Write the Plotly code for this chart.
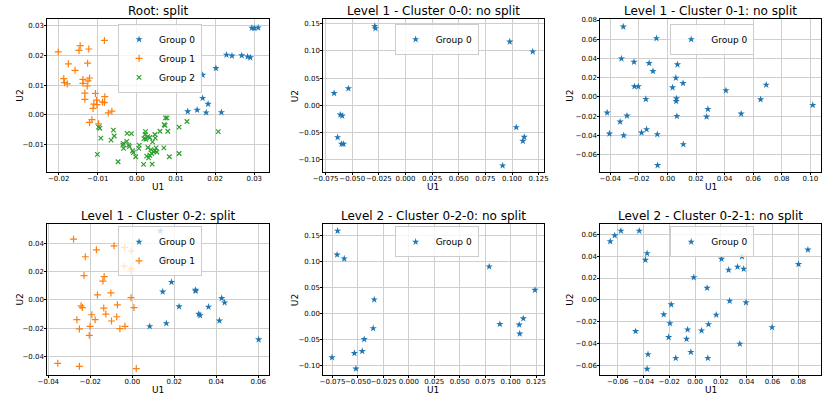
import plotly.graph_objects as go

# ---------------- data ----------------
# Root: split
root_g0_u1 = [0.0294, 0.0300, 0.0310, 0.0229, 0.0243, 0.0268, 0.0283, 0.0290, 0.0202, 0.0168,
              0.0168, 0.0182, 0.0130, 0.0154, 0.0177, 0.0216]
root_g0_u2 = [0.0293, 0.0292, 0.0294, 0.0202, 0.0199, 0.0200, 0.0196, 0.0193, 0.0157, 0.0134,
              0.0056, 0.0036, 0.0011, 0.0016, 0.0007, 0.0008]
root_g1_u1 = [-0.0201, -0.0083, -0.0145, -0.0148, -0.0123, -0.0175, -0.0126, -0.0158, -0.0187, -0.0185,
              -0.0178, -0.0138, -0.0138, -0.0121, -0.0125, -0.0127, -0.0133, -0.0106, -0.0133, -0.0103,
              -0.0110, -0.0102, -0.0088, -0.0082, -0.0083, -0.0112, -0.0073, -0.0064, -0.0115, -0.0121,
              -0.0098]
root_g1_u2 = [0.0212, 0.0251, 0.0233, 0.0217, 0.0222, 0.0172, 0.0174, 0.0150, 0.0122, 0.0108,
              0.0104, 0.0119, 0.0106, 0.0124, 0.0114, 0.0097, 0.0073, 0.0072, 0.0052, 0.0049,
              0.0036, 0.0034, 0.0043, 0.0061, 0.0041, 0.0021, 0.0006, 0.0012, -0.0017, -0.0026,
              -0.0031]
root_g2_u1 = [-0.0098, -0.0095, -0.0092, -0.0101, -0.0060, -0.0058, -0.0066, -0.0048, -0.0025, -0.0014,
              -0.0026, -0.0035, -0.0036, -0.0034, -0.0021, -0.0019, -0.0011, -0.0009, -0.0003, 0.0006,
              0.0005, 0.0017, 0.0022, 0.0021, 0.0018, 0.0023, 0.0028, 0.0033, 0.0028, 0.0030,
              0.0033, 0.0038, 0.0039, 0.0040, 0.0046, 0.0047, 0.0046, 0.0051, 0.0049, 0.0059,
              0.0070, 0.0073, 0.0077, 0.0072, 0.0079, 0.0069, 0.0083, 0.0108, 0.0108, 0.0128,
              0.0208, 0.0036, 0.0043, 0.0025]
root_g2_u2 = [-0.0042, -0.0046, -0.0079, -0.0134, -0.0052, -0.0072, -0.0086, -0.0159, -0.0063, -0.0064,
              -0.0090, -0.0097, -0.0103, -0.0114, -0.0103, -0.0108, -0.0122, -0.0128, -0.0142, -0.0103,
              -0.0114, -0.0168, -0.0057, -0.0067, -0.0081, -0.0083, -0.0074, -0.0077, -0.0111, -0.0146,
              -0.0137, -0.0131, -0.0167, -0.0092, -0.0067, -0.0079, -0.0122, -0.0126, -0.0112, -0.0056,
              -0.0034, -0.0011, -0.0011, -0.0036, -0.0056, -0.0112, -0.0142, -0.0042, -0.0131, -0.0023,
              -0.0057, -0.0118, -0.0125, -0.0140]

# Level 1 - Cluster 0-0
c00_u1 = [-0.0288, -0.0282, 0.0979, 0.1195, -0.0670, -0.0536, -0.0612, -0.0594, -0.0637, -0.0600,
          -0.0582, 0.1040, 0.1115, 0.1102, 0.0912]
c00_u2 = [0.1457, 0.1415, 0.1170, 0.0988, 0.0225, 0.0311, -0.0171, -0.0190, -0.0586, -0.0708,
          -0.0708, -0.0403, -0.0580, -0.0653, -0.1105]

# Level 1 - Cluster 0-1
c01_u1 = [-0.0309, -0.0077, -0.0322, -0.0234, -0.0128, -0.0101, 0.0070, 0.0059, 0.0109, 0.0036,
          -0.0231, -0.0204, -0.0151, 0.0063, 0.0061, -0.0422, -0.0283, -0.0331, 0.0066, 0.0283,
          0.0274, 0.0409, 0.0516, 0.0652, 0.0691, 0.1017, -0.0406, -0.0306, -0.0181, -0.0146,
          -0.0071, 0.0111, -0.0069]
c01_u2 = [0.0731, 0.0610, 0.0399, 0.0364, 0.0351, 0.0268, 0.0337, 0.0198, 0.0143, 0.0098,
          0.0109, 0.0109, -0.0023, -0.0016, -0.0044, -0.0164, -0.0196, -0.0258, -0.0199, -0.0127,
          -0.0206, 0.0067, -0.0175, -0.0026, 0.0126, -0.0085, -0.0382, -0.0400, -0.0372, -0.0337,
          -0.0389, -0.0493, -0.0711]

# Level 1 - Cluster 0-2
c02_g0_u1 = [0.0134, 0.0153, 0.0187, 0.0145, 0.0223, 0.0301, 0.0302, 0.0363, 0.0317, 0.0323,
             0.0426, 0.0440, 0.0415, 0.0083, 0.0162, 0.0602]
c02_g0_u2 = [0.0486, 0.0290, 0.0125, 0.0057, -0.0048, 0.0069, 0.0062, -0.0050, -0.0101, -0.0111,
             0.0011, -0.0020, -0.0148, -0.0188, -0.0167, -0.0281]
c02_g1_u1 = [-0.0280, -0.0224, -0.0171, -0.0087, -0.0037, -0.0006, -0.0230, -0.0134, -0.0140, -0.0039,
             -0.0006, -0.0006, -0.0166, -0.0102, -0.0006, -0.0244, -0.0238, -0.0136, -0.0071, 0.0008,
             -0.0193, -0.0126, -0.0074, -0.0264, -0.0177, -0.0099, -0.0252, -0.0201, -0.0059, -0.0035,
             -0.0205, -0.0355, -0.0252, 0.0019]
c02_g1_u2 = [0.0428, 0.0304, 0.0353, 0.0381, 0.0370, 0.0346, 0.0171, 0.0164, 0.0132, 0.0237,
             0.0220, 0.0202, 0.0034, 0.0048, 0.0015, -0.0043, -0.0055, -0.0059, -0.0036, -0.0055,
             -0.0106, -0.0101, -0.0120, -0.0141, -0.0141, -0.0150, -0.0206, -0.0188, -0.0204, -0.0188,
             -0.0251, -0.0449, -0.0470, -0.0486]

# Level 2 - Cluster 0-2-0
c020_u1 = [-0.0700, -0.0705, -0.0635, -0.0340, -0.0350, -0.0438, -0.0458, -0.0535, -0.0755, -0.0520,
           0.0790, 0.0895, 0.1085, 0.1125, 0.1090, 0.1240]
c020_u2 = [0.1596, 0.1136, 0.1060, 0.0269, -0.0286, -0.0497, -0.0727, -0.0765, -0.0848, -0.1065,
           0.0907, -0.0203, -0.0216, -0.0095, -0.0389, 0.0454]

# Level 2 - Cluster 0-2-1
c021_u1 = [-0.0658, -0.0623, -0.0575, -0.0433, -0.0372, -0.0385, -0.0010, 0.0093, 0.0205, 0.0260,
           0.0329, 0.0364, 0.0377, 0.0268, 0.0395, 0.0802, 0.0875, 0.0597, -0.0185, -0.0243,
           -0.0195, 0.0164, 0.0104, 0.0050, -0.0058, -0.0461, -0.0205, -0.0066, 0.0347, -0.0365,
           -0.0033, -0.0150, 0.0099, -0.0372]
c021_u2 = [0.0534, 0.0588, 0.0630, 0.0630, 0.0425, 0.0365, 0.0205, 0.0109, 0.0374, 0.0274,
           0.0302, 0.0395, 0.0283, -0.0009, -0.0024, 0.0326, 0.0458, -0.0250, -0.0042, -0.0133,
           -0.0214, -0.0136, -0.0223, -0.0280, -0.0271, -0.0286, -0.0341, -0.0356, -0.0401, -0.0497,
           -0.0476, -0.0531, -0.0531, -0.0630]

titles = ["Root: split", "Level 1 - Cluster 0-0: no split", "Level 1 - Cluster 0-1: no split",
          "Level 1 - Cluster 0-2: split", "Level 2 - Cluster 0-2-0: no split",
          "Level 2 - Cluster 0-2-1: no split"]

ticks_root_x = [-0.02, -0.01, 0.00, 0.01, 0.02, 0.03]
ticks_root_y = [-0.01, 0.00, 0.01, 0.02, 0.03]
ticks_wide_x = [-0.075, -0.050, -0.025, 0.000, 0.025, 0.050, 0.075, 0.100, 0.125]
ticks_c00_y = [-0.10, -0.05, 0.00, 0.05, 0.10, 0.15]
ticks_c01_x = [-0.04, -0.02, 0.00, 0.02, 0.04, 0.06, 0.08, 0.10]
ticks_c01_y = [-0.06, -0.04, -0.02, 0.00, 0.02, 0.04, 0.06, 0.08]
ticks_c02_x = [-0.04, -0.02, 0.00, 0.02, 0.04, 0.06]
ticks_c02_y = [-0.04, -0.02, 0.00, 0.02, 0.04]
ticks_c021_x = [-0.06, -0.04, -0.02, 0.00, 0.02, 0.04, 0.06, 0.08]
ticks_c021_y = [-0.06, -0.04, -0.02, 0.00, 0.02, 0.04, 0.06]

# ---------------- style / layout ----------------
W, H = 830, 401
FONT = "DejaVu Sans"
BLUE, ORANGE, GREEN = "#1f77b4", "#ff7f0e", "#2ca02c"

def fmt(v, dec):
    s = f"{abs(v):.{dec}f}"
    return ("\u2212" + s) if v < -1e-12 else s

# panels: (groups, xticks, xdec, yticks, ydec, xrange, yrange, pixel box)
panels = [
    ([(root_g0_u1, root_g0_u2, "Group 0", "star"), (root_g1_u1, root_g1_u2, "Group 1", "plus"),
      (root_g2_u1, root_g2_u2, "Group 2", "x")],
     ticks_root_x, 2, ticks_root_y, 2, [-0.0229, 0.03375], [-0.01944, 0.0322], (37, 263, 16.5, 170.5)),
    ([(c00_u1, c00_u2, "Group 0", "star")],
     ticks_wide_x, 3, ticks_c00_y, 2, [-0.0771, 0.1296], [-0.1226, 0.158], (318.5, 543, 16.5, 170.5)),
    ([(c01_u1, c01_u2, "Group 0", "star")],
     ticks_c01_x, 2, ticks_c01_y, 2, [-0.0469, 0.1075], [-0.0783, 0.0807], (601, 826, 16.5, 170.5)),
    ([(c02_g0_u1, c02_g0_u2, "Group 0", "star"), (c02_g1_u1, c02_g1_u2, "Group 1", "plus")],
     ticks_c02_x, 2, ticks_c02_y, 2, [-0.0405, 0.0651], [-0.0533, 0.0533], (37, 263, 223, 375)),
    ([(c020_u1, c020_u2, "Group 0", "star")],
     ticks_wide_x, 3, ticks_c00_y, 2, [-0.084, 0.1324], [-0.119, 0.1723], (318.5, 543, 223, 375)),
    ([(c021_u1, c021_u2, "Group 0", "star")],
     ticks_c021_x, 2, ticks_c021_y, 2, [-0.0734, 0.0977], [-0.0687, 0.069], (601, 826, 223, 375)),
]

legend_boxes = [(152, 21), (434, 21), (715, 21), (152, 225), (434, 225), (715, 225)]

fig = go.Figure()
annotations = []
layout = dict(width=W, height=H, margin=dict(l=0, r=0, t=0, b=0), autosize=False,
              paper_bgcolor="white", plot_bgcolor="white",
              font=dict(family=FONT, color="black"), showlegend=True)

for i, (groups, xt, xd, yt, yd, xr, yr, box) in enumerate(panels):
    n = i + 1
    xa = "x" if n == 1 else f"x{n}"
    ya = "y" if n == 1 else f"y{n}"
    lg = "legend" if n == 1 else f"legend{n}"
    l, r, t, b = box
    for (u1, u2, name, sym) in groups:
        if sym == "star":
            marker = dict(symbol="star", size=5.5, color=BLUE, line=dict(width=0))
        elif sym == "plus":
            marker = dict(symbol="cross-thin", size=5, color=ORANGE, line=dict(width=1.2, color=ORANGE))
        else:
            marker = dict(symbol="x-thin", size=4.5, color=GREEN, line=dict(width=1.2, color=GREEN))
        fig.add_trace(go.Scatter(x=u1, y=u2, mode="markers", name=name, marker=marker,
                                 xaxis=xa, yaxis=ya, legend=lg, hoverinfo="x+y"))
    axcommon = dict(showgrid=True, gridcolor="#cfcfcf", gridwidth=0.8, zeroline=False,
                    showline=True, linecolor="black", linewidth=1, mirror=True,
                    ticks="outside", ticklen=2, tickwidth=0.8, tickcolor="black",
                    tickangle=0,
                    tickfont=dict(family=FONT, size=7, color="black"))
    layout["xaxis" if n == 1 else f"xaxis{n}"] = dict(
        domain=[l / W, r / W], anchor=ya, range=xr, tickmode="array", tickvals=xt,
        ticktext=[fmt(v, xd) for v in xt], ticklabelstandoff=-3, **axcommon)
    layout["yaxis" if n == 1 else f"yaxis{n}"] = dict(
        domain=[1 - b / H, 1 - t / H], anchor=xa, range=yr, tickmode="array", tickvals=yt,
        ticktext=[fmt(v, yd) for v in yt], ticklabelstandoff=-1, **axcommon)
    lx, ly = legend_boxes[i]
    layout[lg] = dict(x=lx / W, y=1 - ly / H, xanchor="center", yanchor="top",
                      bgcolor="rgba(255,255,255,0.8)", bordercolor="#cccccc", borderwidth=1,
                      font=dict(family=FONT, size=9, color="black"), itemwidth=30,
                      tracegroupgap=0)
    cx = (l + r) / 2
    annotations.append(dict(text=titles[i], x=cx / W, y=1 - (t - 8) / H, xref="paper", yref="paper",
                            xanchor="center", yanchor="middle", showarrow=False,
                            font=dict(family=FONT, size=12, color="black")))
    annotations.append(dict(text="U1", x=cx / W, y=1 - (b + 15) / H, xref="paper", yref="paper",
                            xanchor="center", yanchor="middle", showarrow=False,
                            font=dict(family=FONT, size=9, color="black")))
    ux = 9 if n in (1, 4) else (289 if n in (2, 5) else 570)
    annotations.append(dict(text="U2", x=ux / W, y=1 - ((t + b) / 2) / H, xref="paper", yref="paper",
                            xanchor="center", yanchor="middle", showarrow=False, textangle=-90,
                            font=dict(family=FONT, size=9, color="black")))

layout["annotations"] = annotations
fig.update_layout(**layout)
fig.write_html("out.html", config={"displayModeBar": False},
               post_script="document.body.style.margin='0px';")
